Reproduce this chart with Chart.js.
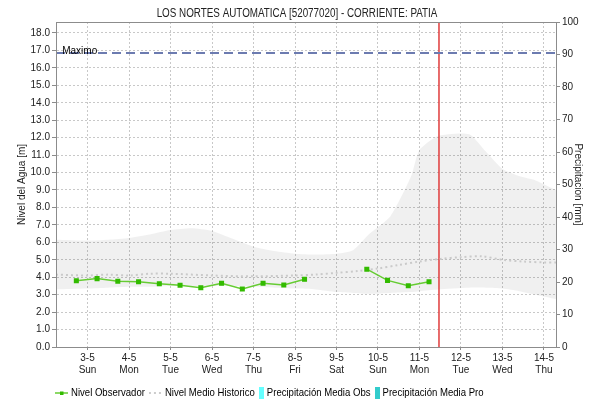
<!DOCTYPE html>
<html>
<head>
<meta charset="utf-8">
<script src="https://cdn.jsdelivr.net/npm/chart.js@4.4.1/dist/chart.umd.min.js"></script>
<style>
  html, body { margin: 0; padding: 0; background: #fff; }
  #wrap { width: 590px; height: 405px; }
</style>
</head>
<body>
<div id="wrap"><canvas id="chart" width="590" height="405"></canvas></div>
<script>
// Titulo y ejes: dias de mayo y etiquetas
const chartTitle = 'LOS NORTES AUTOMATICA [52077020] - CORRIENTE: PATIA';
const tickDays = [3, 4, 5, 6, 7, 8, 9, 10, 11, 12, 13, 14];
const dateLabels = ['3-5', '4-5', '5-5', '6-5', '7-5', '8-5', '9-5', '10-5', '11-5', '12-5', '13-5', '14-5'];
const dayLabels = ['Sun', 'Mon', 'Tue', 'Wed', 'Thu', 'Fri', 'Sat', 'Sun', 'Mon', 'Tue', 'Wed', 'Thu'];
const levelTicks = [0, 1, 2, 3, 4, 5, 6, 7, 8, 9, 10, 11, 12, 13, 14, 15, 16, 17, 18];
const rainTicks = [0, 10, 20, 30, 40, 50, 60, 70, 80, 90, 100];

// Nivel observado (cada 12 horas)
const obsTimes = [2.73, 3.23, 3.73, 4.23, 4.73, 5.23, 5.73, 6.23, 6.73, 7.23, 7.73, 8.23, 8.73, 9.23, 9.73, 10.23, 10.73, 11.23];
const obsLevel = [3.80, 3.92, 3.77, 3.74, 3.63, 3.54, 3.40, 3.65, 3.33, 3.65, 3.56, 3.88, null, null, 4.46, 3.82, 3.51, 3.74];

// Nivel medio historico
const meanTimes = [2.24, 3, 3.5, 4, 4.5, 5, 6, 7, 8, 8.5, 9, 9.5, 10, 10.5, 11, 11.5, 12, 12.5, 13, 13.5, 14, 14.29];
const meanLevel = [4.15, 4.1, 4.15, 4.1, 4.2, 4.2, 4.1, 4.05, 4.1, 4.15, 4.25, 4.35, 4.5, 4.7, 4.9, 5.05, 5.15, 5.2, 5.0, 4.9, 4.85, 4.85];

// Banda historica (minimo / maximo)
const bandTimes = [2.24, 3, 3.5, 4, 4.5, 5, 5.5, 6, 6.5, 7, 7.5, 8, 8.5, 9, 9.4, 9.8, 10.3, 10.8, 11, 11.45, 12.2, 12.6, 13, 13.4, 13.8, 14.29];
const bandMax = [6.15, 6.1, 6.15, 6.25, 6.45, 6.7, 6.8, 6.65, 6.2, 5.75, 5.5, 5.35, 5.3, 5.35, 5.55, 6.5, 7.5, 9.8, 11.3, 12.1, 12.2, 11.2, 10.2, 9.8, 9.55, 9.0];
const bandMin = [3.3, 3.35, 3.4, 3.45, 3.45, 3.5, 3.5, 3.5, 3.5, 3.45, 3.4, 3.35, 3.3, 3.15, 3.1, 3.05, 3.1, 3.15, 3.2, 3.3, 3.4, 3.4, 3.35, 3.2, 3.0, 2.75];

// Otros valores
const maxLevel = 16.85;
const nowDay = 11.47;
const xMin = 2.24;
const xMax = 14.29;
const levelMax = 18.63;

const FONT = "'Liberation Sans', Arial, sans-serif";
const pts = (xs, ys) => xs.map((x, i) => ({ x: x, y: ys[i] }));

// Iconos de la leyenda
function makeIcon(w, h, draw) {
    const c = document.createElement('canvas');
    c.width = w; c.height = h;
    draw(c.getContext('2d'));
    return c;
}
const iconObs = makeIcon(13, 8, ctx => {
    ctx.strokeStyle = '#66cc33'; ctx.lineWidth = 1.5;
    ctx.beginPath(); ctx.moveTo(0, 4); ctx.lineTo(13, 4); ctx.stroke();
    ctx.fillStyle = '#33bb00'; ctx.fillRect(5, 2.5, 3.5, 3.5);
});
const iconMean = makeIcon(13, 8, ctx => {
    ctx.strokeStyle = '#cccccc'; ctx.lineWidth = 2; ctx.setLineDash([2, 3]);
    ctx.beginPath(); ctx.moveTo(0, 4); ctx.lineTo(13, 4); ctx.stroke();
});
const iconObsRain = makeIcon(5, 12, ctx => { ctx.fillStyle = '#66ffff'; ctx.fillRect(0, 0, 5, 12); });
const iconProRain = makeIcon(5, 12, ctx => { ctx.fillStyle = '#33cccc'; ctx.fillRect(0, 0, 5, 12); });

// texto algo estrecho, como en el original
function narrowText(ctx, text, x, y, sx) {
    ctx.save();
    ctx.translate(x, y);
    ctx.scale(sx, 1);
    ctx.fillText(text, 0, 0);
    ctx.restore();
    return ctx.measureText(text).width * sx;
}

// Plugin: titulo, marco, texto "Maximo" y leyenda
const extras = {
    id: 'extras',
    afterDraw(chart) {
        const ctx = chart.ctx;
        const a = chart.chartArea;
        const x = chart.scales.x, y = chart.scales.y;
        ctx.save();
        ctx.strokeStyle = '#8c8c8c';
        ctx.lineWidth = 1;
        ctx.strokeRect(Math.round(a.left) + 0.5, Math.round(a.top) + 0.5, Math.round(a.right - a.left), Math.round(a.bottom - a.top));

        // titulo
        ctx.fillStyle = '#222';
        ctx.font = '12px ' + FONT;
        ctx.textBaseline = 'alphabetic';
        const tw = ctx.measureText(chartTitle).width * 0.82;
        narrowText(ctx, chartTitle, 297 - tw / 2, 16.5, 0.82);

        ctx.fillStyle = '#000';
        ctx.font = '10px ' + FONT;
        ctx.fillText('Maximo', x.getPixelForValue(2.39), y.getPixelForValue(maxLevel) + 1);

        // leyenda
        ctx.font = '11px ' + FONT;
        ctx.textBaseline = 'middle';
        let cx = 55;
        const cy = 393;
        chart.data.datasets.forEach(ds => {
            if (!ds.icon) return;
            ctx.drawImage(ds.icon, cx, Math.round(cy - ds.icon.height / 2));
            cx += ds.icon.width + 3;
            ctx.fillStyle = '#000';
            cx += narrowText(ctx, ds.label, cx, cy, 0.87) + 4;
        });
        ctx.restore();
    }
};

const ctx = document.getElementById('chart').getContext('2d');
const chart = new Chart(ctx, {
    type: 'line',
    data: {
        datasets: [
            {
                label: 'Nivel Observador', icon: iconObs,
                data: pts(obsTimes, obsLevel),
                borderColor: '#66cc33', borderWidth: 1.5,
                pointStyle: 'rect', pointRadius: 2.5, pointBackgroundColor: '#33bb00', pointBorderColor: '#33bb00',
                spanGaps: false, tension: 0, yAxisID: 'y'
            },
            {
                label: 'Nivel Medio Historico', icon: iconMean,
                data: pts(meanTimes, meanLevel),
                borderColor: '#cacaca', borderWidth: 2, borderDash: [2, 3],
                pointRadius: 0, tension: 0.3, yAxisID: 'y'
            },
            {
                label: 'Maximo',
                data: pts([xMin, xMax], [maxLevel, maxLevel]),
                borderColor: '#6c7bb0', borderWidth: 2, borderDash: [9, 5],
                pointRadius: 0, yAxisID: 'y'
            },
            {
                label: 'Ahora',
                data: pts([nowDay, nowDay], [0, levelMax]),
                borderColor: '#e03c3c', borderWidth: 1.5,
                pointRadius: 0, yAxisID: 'y'
            },
            {
                type: 'bar', label: 'Precipitación Media Obs', icon: iconObsRain,
                data: [], backgroundColor: '#66ffff', yAxisID: 'y2'
            },
            {
                type: 'bar', label: 'Precipitación Media Pro', icon: iconProRain,
                data: [], backgroundColor: '#33cccc', yAxisID: 'y2'
            },
            {
                label: 'Minimo Historico',
                data: pts(bandTimes, bandMin),
                borderWidth: 0, borderColor: 'rgba(0,0,0,0)',
                pointRadius: 0, tension: 0.2, yAxisID: 'y'
            },
            {
                label: 'Maximo Historico',
                data: pts(bandTimes, bandMax),
                borderWidth: 0, borderColor: 'rgba(0,0,0,0)',
                backgroundColor: 'rgba(0,0,0,0.06)',
                fill: '-1', pointRadius: 0, tension: 0.2, yAxisID: 'y'
            }
        ]
    },
    options: {
        responsive: false,
        animation: false,
        events: [],
        layout: { padding: { left: 0, right: 0, top: 22, bottom: 26 } },
        plugins: {
            legend: { display: false },
            tooltip: { enabled: false },
            title: { display: false }
        },
        scales: {
            x: {
                type: 'linear', min: xMin, max: xMax, offset: false,
                afterBuildTicks: s => { s.ticks = tickDays.map(v => ({ value: v })); },
                afterFit: s => { s.height = 32; },
                ticks: {
                    autoSkip: false, maxRotation: 0, padding: 2,
                    color: '#222', font: { family: FONT, size: 10 },
                    callback: v => {
                        const i = tickDays.indexOf(v);
                        return i < 0 ? '' : [dateLabels[i], dayLabels[i]];
                    }
                },
                grid: { offset: false, color: '#c8c8c8', tickColor: '#8c8c8c', tickLength: 3 },
                border: { display: true, color: '#8c8c8c', dash: [2, 2] }
            },
            y: {
                position: 'left', min: 0, max: levelMax,
                afterBuildTicks: s => { s.ticks = levelTicks.map(v => ({ value: v })); },
                afterFit: s => { s.width = 56; },
                ticks: {
                    padding: 2, color: '#222', font: { family: FONT, size: 10 },
                    callback: v => v.toFixed(1)
                },
                title: { display: true, text: 'Nivel del Agua [m]', color: '#222', font: { family: FONT, size: 10 }, padding: { top: 16, bottom: 0 } },
                grid: { color: '#c8c8c8', tickColor: '#8c8c8c', tickLength: 4 },
                border: { display: true, color: '#8c8c8c', dash: [2, 2] }
            },
            y2: {
                position: 'right', min: 0, max: 100,
                afterBuildTicks: s => { s.ticks = rainTicks.map(v => ({ value: v })); },
                afterFit: s => { s.width = 34; },
                ticks: { padding: 2, color: '#222', font: { family: FONT, size: 10 } },
                title: { display: true, text: 'Precipitacion [mm]', color: '#222', font: { family: FONT, size: 10 }, padding: { top: 6, bottom: 0 } },
                grid: { drawOnChartArea: false, tickColor: '#8c8c8c', tickLength: 4 },
                border: { display: true, color: '#8c8c8c' }
            }
        }
    },
    plugins: [extras]
});
</script>
</body>
</html>
